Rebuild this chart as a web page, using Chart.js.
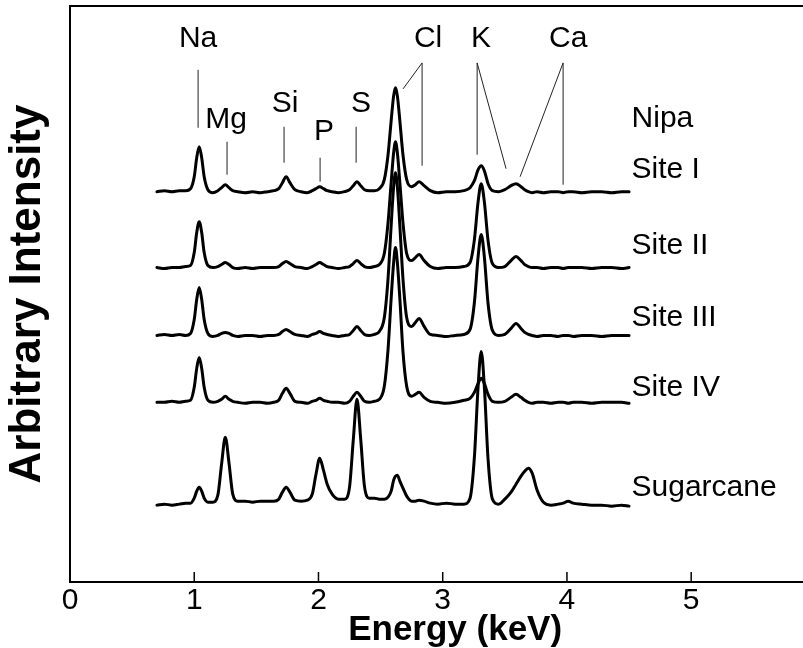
<!DOCTYPE html>
<html lang="en">
<head>
  <meta charset="UTF-8" />
  <title>EDX spectra: Nipa vs Sugarcane</title>
  <script src="https://cdn.jsdelivr.net/npm/chart.js"></script>
  <style>
    html, body { margin: 0; padding: 0; background: #fff; overflow: hidden; }
    #spectra { display: block; }
  </style>
</head>
<body>
  <canvas id="spectra" width="803" height="648"></canvas>

  <script>
    // energy grid (keV), shared by all traces
    const energyKeV = [
      0.70, 0.76, 0.82, 0.88, 0.93, 0.97, 1.00, 1.02, 1.04, 1.06,
      1.08, 1.11, 1.15, 1.19, 1.22, 1.25, 1.28, 1.31, 1.35, 1.41,
      1.47, 1.53, 1.59, 1.64, 1.68, 1.71, 1.74, 1.77, 1.81, 1.86,
      1.91, 1.95, 1.98, 2.01, 2.04, 2.07, 2.11, 2.16, 2.21, 2.25,
      2.28, 2.31, 2.34, 2.37, 2.41, 2.45, 2.49, 2.53, 2.56, 2.585,
      2.605, 2.62, 2.635, 2.655, 2.68, 2.71, 2.75, 2.78, 2.81, 2.85,
      2.90, 2.96, 3.03, 3.10, 3.17, 3.22, 3.255, 3.285, 3.31, 3.335,
      3.365, 3.40, 3.45, 3.50, 3.55, 3.59, 3.63, 3.66, 3.69, 3.72,
      3.76, 3.81, 3.87, 3.93, 3.97, 4.01, 4.05, 4.12, 4.20, 4.28,
      4.36, 4.44, 4.50
    ];

    // intensity of each trace above its own baseline (arbitrary units)
    const siteI = [
      0, 1, 0, 1, 1, 3, 15, 34, 45, 34,
      15, 2, -1, 1, 4, 7, 4, 1, 0, -1,
      0, -1, 0, 1, 3, 9, 15, 9, 2, 0,
      -1, 1, 3, 5, 3, 1, 0, -1, 0, 2,
      6, 10, 6, 2, 1, 1, 3, 12, 37, 71,
      96, 104, 96, 71, 37, 12, 5, 7, 10, 6,
      1, -1, 0, 0, 1, 4, 11, 22, 26, 21,
      8, 1, 0, 2, 6, 8, 5, 2, 0, -1,
      0, -1, 0, 0, -1, 0, 0, -1, 0, 0,
      -1, 0, 0
    ];
    const siteII = [
      0, -1, 0, 0, 1, 2, 15, 35, 46, 35,
      15, 2, 0, 1, 3, 5, 3, 0, -1, 0,
      -1, 0, 0, 0, 1, 4, 6, 4, 1, 0,
      -1, 1, 3, 5, 3, 1, 0, -1, 0, 1,
      4, 7, 4, 1, 0, 1, 3, 14, 45, 85,
      115, 126, 115, 85, 45, 14, 7, 10, 13, 7,
      1, -1, 0, 0, 1, 5, 28, 66, 84, 66,
      27, 4, 0, 1, 7, 11, 7, 3, 1, 0,
      0, -1, 0, 0, -1, 0, 0, 0, -1, 0,
      0, -1, 0
    ];
    const siteIII = [
      0, 1, 0, 1, 0, 2, 16, 36, 48, 36,
      16, 2, -1, 0, 2, 3, 2, 0, -1, 0,
      0, -1, 0, 0, 1, 4, 6, 4, 1, 0,
      -1, 1, 2, 4, 2, 1, 0, -1, 0, 1,
      5, 9, 5, 1, 0, 1, 4, 18, 57, 110,
      149, 163, 149, 110, 57, 18, 9, 13, 17, 9,
      1, 0, -1, 0, 1, 6, 33, 79, 101, 79,
      32, 5, 0, 1, 7, 12, 7, 3, 1, 0,
      -1, 0, 0, -1, 0, 0, -1, 0, 0, -1,
      0, 0, 0
    ];
    const siteIV = [
      0, 0, 1, 0, 1, 2, 15, 34, 45, 34,
      15, 2, 0, 1, 3, 6, 3, 1, 0, -1,
      0, 0, -1, 0, 2, 9, 14, 9, 1, 0,
      -1, 1, 2, 4, 2, 1, 0, 0, -1, 1,
      6, 10, 6, 1, 0, 1, 3, 16, 53, 104,
      140, 155, 140, 104, 51, 16, 6, 8, 10, 5,
      1, 0, -1, 0, 2, 4, 10, 19, 24, 19,
      8, 1, 0, 1, 5, 8, 5, 2, 0, -1,
      0, 0, -1, 0, 0, -1, 0, 0, -1, 0,
      0, 0, -1
    ];
    const sugarcane = [
      -1, 0, -1, 0, 1, 1, 6, 13, 17, 13,
      6, 2, 2, 9, 40, 67, 41, 10, 3, 3,
      2, 3, 3, 3, 5, 12, 17, 12, 4, 3,
      4, 10, 30, 46, 34, 20, 10, 5, 5, 17,
      64, 105, 65, 18, 6, 6, 5, 5, 7, 13,
      24, 28, 29, 23, 16, 8, 3, 3, 4, 3,
      1, 0, 1, 0, 0, 6, 47, 118, 153, 118,
      45, 5, 0, 5, 12, 20, 28, 33, 36, 31,
      14, 2, -1, 0, 1, 3, 1, 0, -1, -1,
      -2, -1, -2
    ];

    const traceNames = ["Site I", "Site II", "Site III", "Site IV", "Sugarcane"];
    const traceValues = [siteI, siteII, siteIII, siteIV, sugarcane];
    const traceOffsets = [391, 315, 247, 180, 78];   // vertical stacking
    const intensityMax = 577;

    const xTicks = [0, 1, 2, 3, 4, 5];
    const energyMax = 5.9;

    // element labels and their leader lines (keV, intensity units)
    const elementNames = ["Na", "Mg", "Si", "P", "S", "Cl", "K", "Ca"];
    const elementLabelE = [1.031, 1.256, 1.731, 2.045, 2.343, 2.882, 3.309, 4.01];
    const elementLabelY = [536, 455, 471, 443, 471, 536, 536, 536];
    const leaderLines = [
      [1.031, 513, 1.031, 455],
      [1.264, 441, 1.264, 408],
      [1.723, 456, 1.723, 420],
      [2.013, 425, 2.013, 401],
      [2.303, 456, 2.303, 420],
      [2.834, 520, 2.834, 417], [2.834, 520, 2.681, 494],
      [3.277, 520, 3.277, 428], [3.277, 520, 3.510, 414],
      [3.969, 520, 3.969, 398], [3.969, 520, 3.623, 406]
    ];

    // right-hand trace labels
    const sideLabels = ["Nipa", "Site I", "Site II", "Site III", "Site IV", "Sugarcane"];
    const sideLabelY = [456, 405, 329, 256, 186, 86];
    const sideLabelE = 4.52;

    const FONT = '"Liberation Sans", Arial, Helvetica, sans-serif';
    Chart.defaults.font.family = FONT;
    Chart.defaults.color = "#000";

    const datasets = traceValues.map((vals, k) => ({
      label: traceNames[k],
      data: energyKeV.map((e, i) => ({ x: e, y: traceOffsets[k] + vals[i] })),
      borderColor: "#000",
      borderWidth: 3,
      pointRadius: 0,
      fill: false,
      cubicInterpolationMode: "monotone",
      borderJoinStyle: "round",
      borderCapStyle: "round"
    }));

    const decorations = {
      id: "decorations",
      afterDatasetsDraw(chart) {
        const { ctx, chartArea: a, scales: { x, y } } = chart;
        ctx.save();

        // frame: left and top
        ctx.strokeStyle = "#000";
        ctx.lineWidth = 2;
        ctx.beginPath();
        ctx.moveTo(a.left, a.bottom);
        ctx.lineTo(a.left, a.top);
        ctx.lineTo(a.right, a.top);
        ctx.stroke();

        // inward tick marks
        ctx.lineWidth = 1.5;
        xTicks.forEach(v => {
          if (v === 0) return;
          const px = x.getPixelForValue(v);
          ctx.beginPath();
          ctx.moveTo(px, a.bottom);
          ctx.lineTo(px, a.bottom - 10);
          ctx.stroke();
        });

        // leader lines
        ctx.lineWidth = 1;
        ctx.strokeStyle = "#222";
        leaderLines.forEach(([e1, v1, e2, v2]) => {
          ctx.beginPath();
          ctx.moveTo(x.getPixelForValue(e1), y.getPixelForValue(v1));
          ctx.lineTo(x.getPixelForValue(e2), y.getPixelForValue(v2));
          ctx.stroke();
        });

        ctx.fillStyle = "#000";
        ctx.font = "30px " + FONT;
        ctx.textBaseline = "alphabetic";
        ctx.textAlign = "center";
        elementNames.forEach((n, i) => {
          ctx.fillText(n, x.getPixelForValue(elementLabelE[i]), y.getPixelForValue(elementLabelY[i]));
        });

        ctx.textAlign = "left";
        sideLabels.forEach((n, i) => {
          ctx.fillText(n, x.getPixelForValue(sideLabelE), y.getPixelForValue(sideLabelY[i]));
        });

        // axis titles
        ctx.font = "bold 35px " + FONT;
        ctx.textAlign = "center";
        ctx.fillText("Energy (keV)", x.getPixelForValue(3.1), a.bottom + 58);

        ctx.font = "bold 44px " + FONT;
        ctx.textBaseline = "middle";
        ctx.translate(a.left - 42, (a.top + a.bottom) / 2);
        ctx.rotate(-Math.PI / 2);
        ctx.fillText("Arbitrary Intensity", 0, 0);
        ctx.restore();
      }
    };

    new Chart(document.getElementById("spectra").getContext("2d"), {
      type: "line",
      data: { datasets },
      options: {
        responsive: false,
        animation: false,
        devicePixelRatio: 1,
        layout: { padding: { left: 70, top: 6, right: 0, bottom: 28 } },
        plugins: { legend: { display: false }, tooltip: { enabled: false } },
        scales: {
          x: {
            type: "linear",
            min: 0,
            max: energyMax,
            afterBuildTicks: s => { s.ticks = xTicks.map(v => ({ value: v })); },
            grid: { display: false, drawTicks: false },
            border: { display: true, color: "#000", width: 2 },
            ticks: { color: "#000", font: { size: 30 }, padding: 1, maxRotation: 0, autoSkip: false }
          },
          y: {
            type: "linear",
            min: 0,
            max: intensityMax,
            display: false
          }
        }
      },
      plugins: [decorations]
    });
  </script>
</body>
</html>
